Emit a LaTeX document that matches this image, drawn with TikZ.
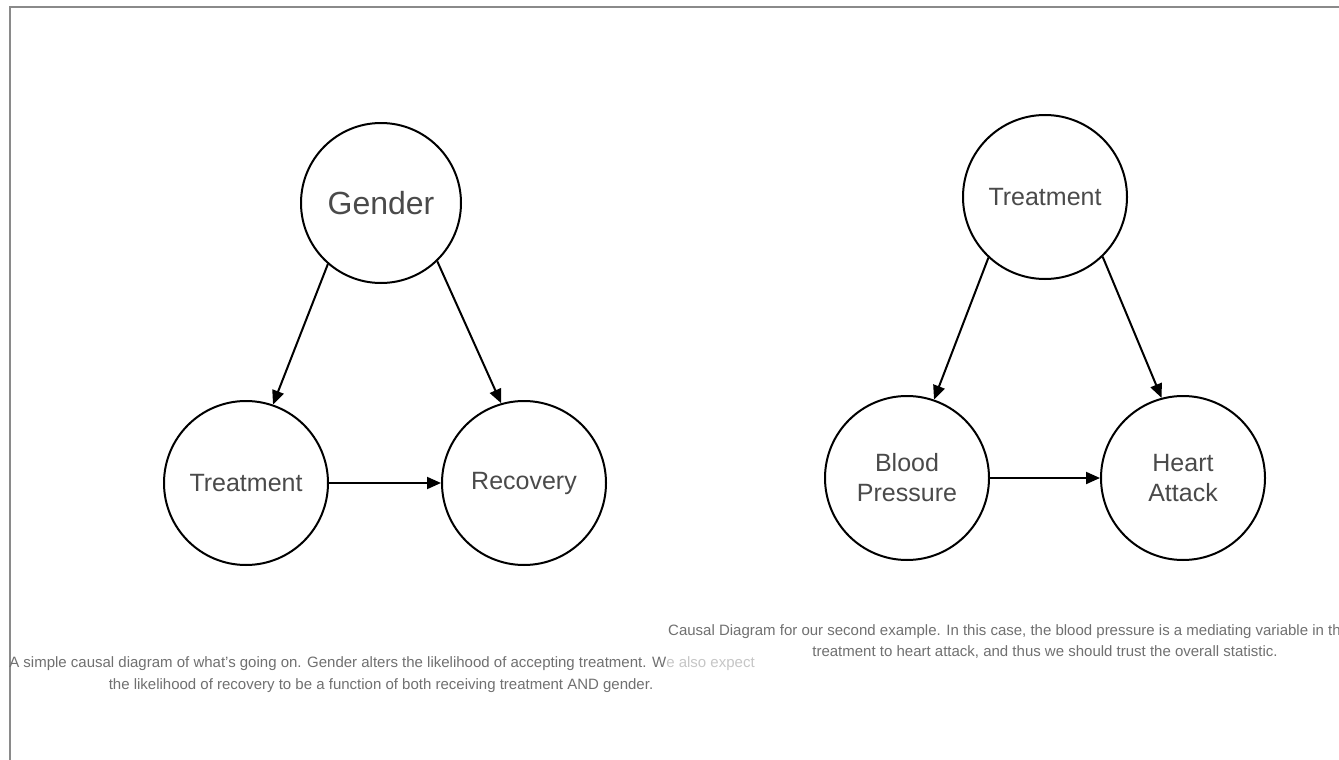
\documentclass[tikz,border=0pt]{standalone}
\usepackage{fontspec}
\setmainfont{Liberation Sans}
\usetikzlibrary{arrows.meta}
\definecolor{labelgray}{HTML}{4A4A4A}
\definecolor{captiongray}{HTML}{707070}
\definecolor{framegray}{HTML}{8A8A8A}
\begin{document}
\begin{tikzpicture}[x=1pt,y=-1pt,
  var/.style={circle,draw=black,line width=2pt,minimum size=164pt,inner sep=0pt,
    text=labelgray,font=\fontsize{25}{30}\selectfont,align=center},
  link/.style={line width=2pt,-{Triangle[length=14pt,width=12pt]}},
  caption/.style={text=captiongray,inner sep=0pt,font=\fontsize{15}{18}\selectfont}]
\clip (0,0) rectangle (1339,760);
\fill[white] (0,0) rectangle (1339,760);
% page frame
\draw[framegray,line width=1.5pt] (10,760) coordinate (fb) -- (10,7) coordinate (fc) -- (1339,7) coordinate (fr);

% first example
\node[var,minimum size=160pt,font=\fontsize{32}{38}\selectfont] (g) at (381,203) {Gender};
\node[var] (t) at (246,483) {Treatment};
\node[var] (r) at (524,483) {\vphantom{T}Recovery};
\draw[link] (g.-131) -- (t.71);
\draw[link] (g.-46) -- (r.106);
\draw[link] (t) -- (r);

% second example
\node[var] (t2) at (1045,197) {Treatment};
\node[var] (bp) at (907,478) {Blood\\Pressure};
\node[var] (ha) at (1183,478) {Heart\\Attack};
\draw[link] (t2.-133) -- (bp.71);
\draw[link] (t2.-46) -- (ha.105);
\draw[link] (bp) -- (ha);

% captions
\node[caption] (c1a) at (382,664)
  {A simple causal diagram of what's going on. Gender alters the likelihood of accepting treatment. W\textcolor{captiongray!40}{e also expect}};
\node[caption] (c1b) at (381,686)
  {the likelihood of recovery to be a function of both receiving treatment AND gender.};
\node[caption,anchor=west] (c2a) at (668,632)
  {Causal Diagram for our second example. In this case, the blood pressure is a mediating variable in the};
\node[caption] (c2b) at (1045,652)
  {treatment to heart attack, and thus we should trust the overall statistic.};
\end{tikzpicture}
\end{document}
